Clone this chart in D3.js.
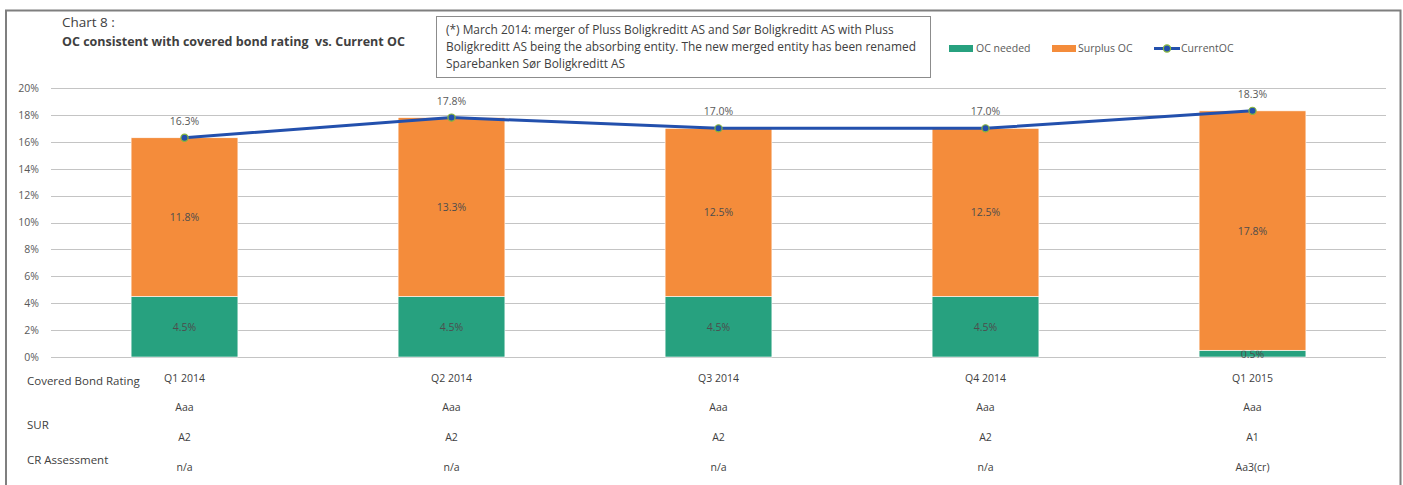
<!DOCTYPE html>
<html>
<head>
<meta charset="utf-8">
<script src="https://cdn.jsdelivr.net/npm/d3@7"></script>
<style>
  body { margin: 0; background: #fff; }
  svg { display: block; font-family: "Open Sans", "Noto Sans", sans-serif; }
</style>
</head>
<body>
<svg id="chart" width="1403" height="485"></svg>
<script>
// quarters, stacked series and line
var quarters = ["Q1 2014", "Q2 2014", "Q3 2014", "Q4 2014", "Q1 2015"];
var ocNeeded = [4.5, 4.5, 4.5, 4.5, 0.5];
var surplusOC = [11.8, 13.3, 12.5, 12.5, 17.8];
var currentOC = [16.3, 17.8, 17.0, 17.0, 18.3];
var yTicks = [0, 2, 4, 6, 8, 10, 12, 14, 16, 18, 20];

// rating table below the chart
var coveredBondRating = ["Aaa", "Aaa", "Aaa", "Aaa", "Aaa"];
var sur = ["A2", "A2", "A2", "A2", "A1"];
var crAssessment = ["n/a", "n/a", "n/a", "n/a", "Aa3(cr)"];

var noteLines = [
	"(*) March 2014: merger of Pluss Boligkreditt AS and Sør Boligkreditt AS with Pluss",
	"Boligkreditt AS being the absorbing entity. The new merged entity has been renamed",
	"Sparebanken Sør Boligkreditt AS"
];

var colors = { needed: "#27a17f", surplus: "#f48c3b", line: "#2350ad", marker: "#8ab83d" };
var textColor = "#595959";

var svg = d3.select("#chart");

//Outer frame
svg.append("path")
	.attr("d", "M6,485 V10.5 H1400.5 V485")
	.attr("fill", "none")
	.attr("stroke", "#7f7f7f")
	.attr("stroke-width", 2);

//Titles
svg.append("text").attr("x", 62).attr("y", 27)
	.attr("font-size", 13.5).attr("fill", "#404040").text("Chart 8 :");
svg.append("text").attr("x", 62).attr("y", 46)
	.attr("font-size", 12.5).attr("font-weight", "bold").attr("fill", "#404040")
	.style("white-space", "pre")
	.text("OC consistent with covered bond rating  vs. Current OC");

//Note box
svg.append("rect").attr("x", 436.5).attr("y", 16.5).attr("width", 494).attr("height", 61)
	.attr("fill", "#fff").attr("stroke", "#8c8c8c").attr("stroke-width", 1);
svg.append("g").selectAll("text").data(noteLines).enter().append("text")
	.attr("x", 446).attr("y", (d, i) => 34 + i * 17)
	.attr("font-size", 11.9).attr("fill", "#404040")
	.text(d => d);

var margin = { left: 51, right: 1386, top: 88, bottom: 357 };

var x = d3.scaleBand().domain(quarters)
	.range([margin.left, margin.right])
	.paddingInner(0.6).paddingOuter(0.3);

var y = d3.scaleLinear().domain([0, 20]).range([margin.bottom, margin.top]);

//Gridlines
svg.append("g").selectAll("line").data(yTicks).enter().append("line")
	.attr("x1", margin.left).attr("x2", margin.right)
	.attr("y1", d => Math.round(y(d)) + 0.5).attr("y2", d => Math.round(y(d)) + 0.5)
	.attr("stroke", "#c4c4c4").attr("stroke-width", 1);

//Y axis labels
var yAxis = d3.axisLeft(y).tickValues(yTicks).tickFormat(d => d + "%").tickSize(0).tickPadding(12);
var yg = svg.append("g").attr("transform", "translate(" + margin.left + ",0)").call(yAxis);
yg.select(".domain").remove();
yg.selectAll("text").attr("font-size", 10.5).attr("fill", textColor)
	.attr("font-family", "'Open Sans', sans-serif");

//Bars
var stacked = quarters.map((q, i) => ({ q: q, needed: ocNeeded[i], surplus: surplusOC[i] }));
var series = d3.stack().keys(["needed", "surplus"])(stacked);

var barG = svg.append("g");
series.forEach(s => {
	barG.selectAll(".bar-" + s.key).data(s).enter().append("rect")
		.attr("class", "bar-" + s.key)
		.attr("x", d => x(d.data.q))
		.attr("width", x.bandwidth())
		.attr("y", d => y(d[1]))
		.attr("height", d => y(d[0]) - y(d[1]))
		.attr("fill", colors[s.key])
		.attr("stroke", "#fff").attr("stroke-width", 0.6);
	barG.selectAll(".lbl-" + s.key).data(s).enter().append("text")
		.attr("x", d => x(d.data.q) + x.bandwidth() / 2)
		.attr("y", d => (y(d[0]) + y(d[1])) / 2 + 4)
		.attr("text-anchor", "middle")
		.attr("font-size", 10.5).attr("fill", "#4d4d4d")
		.text(d => (d[1] - d[0]).toFixed(1) + "%");
});

//Current OC line
var cx = q => x(q) + x.bandwidth() / 2;
var lineGen = d3.line().x((d, i) => cx(quarters[i])).y(d => y(d));
svg.append("path").datum(currentOC)
	.attr("d", lineGen)
	.attr("fill", "none").attr("stroke", colors.line).attr("stroke-width", 3);
svg.append("g").selectAll("circle").data(currentOC).enter().append("circle")
	.attr("cx", (d, i) => cx(quarters[i])).attr("cy", d => y(d)).attr("r", 3.6)
	.attr("fill", colors.line).attr("stroke", colors.marker).attr("stroke-width", 1.2);
svg.append("g").selectAll("text").data(currentOC).enter().append("text")
	.attr("x", (d, i) => cx(quarters[i])).attr("y", d => y(d) - 13)
	.attr("text-anchor", "middle").attr("font-size", 10.5).attr("fill", textColor)
	.text(d => d.toFixed(1) + "%");

//Legend
var legend = svg.append("g").attr("font-size", 10.5).attr("fill", textColor);
legend.append("rect").attr("x", 949).attr("y", 45).attr("width", 24).attr("height", 7).attr("fill", colors.needed);
legend.append("text").attr("x", 976).attr("y", 52).text("OC needed");
legend.append("rect").attr("x", 1052).attr("y", 45).attr("width", 24).attr("height", 7).attr("fill", colors.surplus);
legend.append("text").attr("x", 1078).attr("y", 52).text("Surplus OC");
legend.append("line").attr("x1", 1154).attr("x2", 1180).attr("y1", 48.5).attr("y2", 48.5)
	.attr("stroke", colors.line).attr("stroke-width", 3);
legend.append("circle").attr("cx", 1167).attr("cy", 48.5).attr("r", 3.6)
	.attr("fill", colors.line).attr("stroke", colors.marker).attr("stroke-width", 1.2);
legend.append("text").attr("x", 1181).attr("y", 52).text("CurrentOC");

//Rating table
var table = svg.append("g").attr("fill", "#404040").attr("font-size", 11);
var rowLabels = [["Covered Bond Rating", 385], ["SUR", 429], ["CR Assessment", 464]];
table.selectAll(".rowlbl").data(rowLabels).enter().append("text")
	.attr("class", "rowlbl").attr("x", 27).attr("y", d => d[1])
	.attr("font-size", 11.5).text(d => d[0]);

var rows = [[quarters, 382], [coveredBondRating, 411], [sur, 441], [crAssessment, 471]];
rows.forEach(r => {
	table.append("g").selectAll("text").data(r[0]).enter().append("text")
		.attr("x", (d, i) => cx(quarters[i])).attr("y", r[1])
		.attr("text-anchor", "middle").attr("font-size", 10.5)
		.text(d => d);
});
</script>
</body>
</html>
